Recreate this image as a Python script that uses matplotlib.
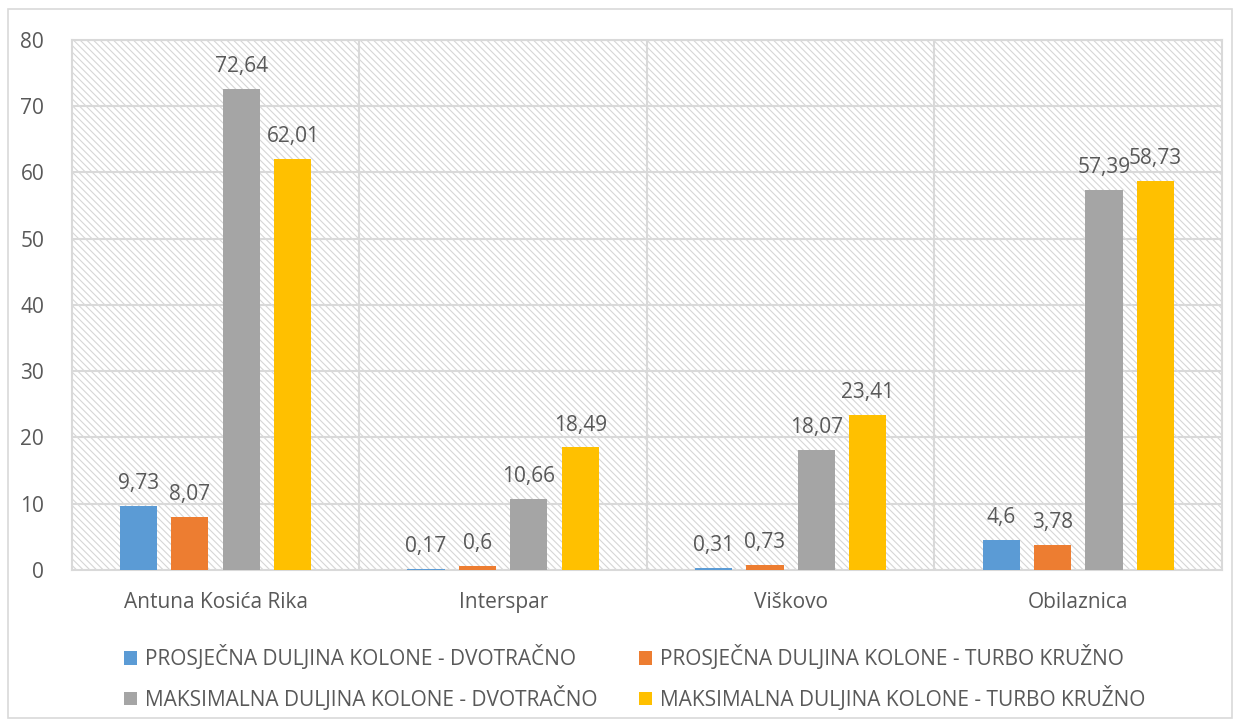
import matplotlib
import matplotlib.pyplot as plt
import numpy as np
from matplotlib.patches import Rectangle

matplotlib.use('Agg')

# data
locations = ['Antuna Kosića Rika', 'Interspar', 'Viškovo', 'Obilaznica']
avg_two_lane = [9.73, 0.17, 0.31, 4.6]
avg_turbo = [8.07, 0.6, 0.73, 3.78]
max_two_lane = [72.64, 10.66, 18.07, 57.39]
max_turbo = [62.01, 18.49, 23.41, 58.73]
series_names = [
    'PROSJEČNA DULJINA KOLONE - DVOTRAČNO',
    'PROSJEČNA DULJINA KOLONE - TURBO KRUŽNO',
    'MAKSIMALNA DULJINA KOLONE - DVOTRAČNO',
    'MAKSIMALNA DULJINA KOLONE - TURBO KRUŽNO',
]
colors = ['#5B9BD5', '#ED7D31', '#A5A5A5', '#FFC000']

text_color = '#595959'
grid_color = '#D9D9D9'
plt.rcParams['font.family'] = ['Open Sans', 'DejaVu Sans']
plt.rcParams['hatch.linewidth'] = 0.8
plt.rcParams['hatch.color'] = '#D6D6D6'

fig = plt.figure(figsize=(12.4, 7.26), dpi=100)
ax = fig.add_axes([0.058, 0.2149, 0.9275, 0.73])

# chart frame
fig.patches.append(Rectangle((0.0065, 0.011), 0.987, 0.977, transform=fig.transFigure,
                             fill=False, edgecolor=grid_color, linewidth=1.2))

x = np.arange(len(locations))
width = 0.129
step = 0.179
all_series = [avg_two_lane, avg_turbo, max_two_lane, max_turbo]

# hatched plot background
ax.add_patch(Rectangle((-0.5, 0), 4, 80, facecolor='white', hatch='\\\\\\\\\\',
                       edgecolor='#D6D6D6', linewidth=0, zorder=0))

bar_handles = []
for i, (vals, col, name) in enumerate(zip(all_series, colors, series_names)):
    pos = x + (i - 1.5) * step
    bars = ax.bar(pos, vals, width, color=col, label=name, zorder=3)
    bar_handles.append(bars)
    for b, v in zip(bars, vals):
        ax.text(b.get_x() + b.get_width() / 2, v + 1.8, f'{v:g}'.replace('.', ','),
                ha='center', va='bottom', fontsize=15, color=text_color, zorder=4)

ax.set_xlim(-0.5, 3.5)
ax.set_ylim(0, 80)
ax.set_yticks(range(0, 81, 10))
ax.set_xticks(x)
ax.set_xticklabels(locations)
ax.tick_params(axis='both', length=0, labelsize=15, labelcolor=text_color)
ax.tick_params(axis='y', pad=20)
ax.tick_params(axis='x', pad=16)

# grid lines
for y in range(10, 81, 10):
    ax.axhline(y, color=grid_color, linewidth=1.5, zorder=1)
for xb in [0.5, 1.5, 2.5]:
    ax.axvline(xb, color=grid_color, linewidth=1.5, zorder=1)
for s in ax.spines.values():
    s.set_color(grid_color)
    s.set_linewidth(1.5)

# legend filled row by row: columns get (0, 2) and (1, 3)
order = [0, 2, 1, 3]
leg = fig.legend([bar_handles[k] for k in order], [series_names[k] for k in order],
                 loc='lower left', bbox_to_anchor=(0.085, -0.005),
                 ncol=2, frameon=False, fontsize=15, labelcolor=text_color,
                 handlelength=0.6, handleheight=0.6, handletextpad=0.4,
                 columnspacing=2.0, labelspacing=0.75)

fig.savefig('out.png', dpi=100)
